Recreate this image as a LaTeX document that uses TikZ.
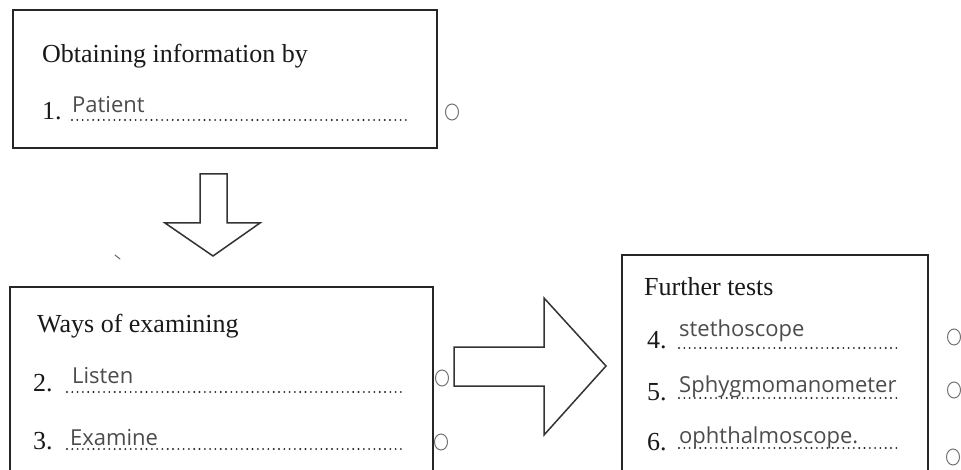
\documentclass[tikz,border=0pt]{standalone}
\usepackage{fontspec}
\usetikzlibrary{shapes.geometric}
\setmainfont{Liberation Serif}
\newfontfamily\hand{Open Sans}
\begin{document}
\begin{tikzpicture}[x=1pt,y=-1pt,
  box/.style={draw=black!85,line width=1.8pt,inner sep=0pt,outer sep=0pt},
  blockarrow/.style={draw=black!80,line width=1.5pt,fill=white,line join=miter},
  printed/.style={anchor=base west,inner sep=0pt,font=\fontsize{26}{30}\selectfont,text=black!90},
  handw/.style={anchor=base west,inner sep=0pt,font=\hand\fontsize{22}{26}\selectfont,text=black!70},
  leader/.style={draw=black!85,line width=2.1pt,line cap=round,dash pattern=on 0pt off 5.3pt},
  okmark/.style={draw=black!55,line width=1pt,ellipse,minimum width=13pt,minimum height=16pt,inner sep=0pt}
]
\useasboundingbox (0,0) rectangle (961,470);
\clip (0,0) rectangle (961,470);
\fill[white] (0,0) rectangle (961,470);

% boxes
\node[box,minimum width=424pt,minimum height=138pt] (b1) at (225,79) {};
\node[box,minimum width=423pt,minimum height=210pt] (b2) at (221.5,392) {};
\node[box,minimum width=306pt,minimum height=240pt] (b3) at (775,375) {};

% block arrows
\draw[blockarrow] (200,174) -- (227,174) -- (227,223) -- (260,223) -- (213,256) -- (165,223) -- (200,223) -- cycle;
\draw[blockarrow] (454,347) -- (544,347) -- (544,298) -- (606,366) -- (544,435) -- (544,386) -- (454,386) -- cycle;

% stray tick
\draw[black!60,line width=1pt,line cap=round] (115,255) -- (120,259);

% box 1
\node[printed] (t1) at (42,63) {Obtaining information by};
\node[printed] (n1) at (42,120) {1.};
\coordinate (l1a) at (72,120); \coordinate (l1b) at (408,120);
\draw[leader] (l1a) -- (l1b);
\node[handw] (h1) at (72,113) {Patient};
\node[okmark] (o1) at (452,112) {};

% box 2
\node[printed] (t2) at (37,333) {Ways of examining};
\node[printed] (n2) at (33,391) {2.};
\node[printed] (n3) at (33,449) {3.};
\coordinate (l2a) at (67,392); \coordinate (l2b) at (403,392);
\coordinate (l3a) at (67,449); \coordinate (l3b) at (403,449);
\draw[leader] (l2a) -- (l2b);
\draw[leader] (l3a) -- (l3b);
\node[handw] (h2) at (72,383) {Listen};
\node[handw] (h3) at (70,445) {Examine};
\node[okmark] (o2) at (442,378) {};
\node[okmark] (o3) at (441,442) {};

% box 3
\node[printed] (t3) at (644,295) {Further tests};
\node[printed] (n4) at (647,348) {4.};
\node[printed] (n5) at (647,400) {5.};
\node[printed] (n6) at (647,450) {6.};
\coordinate (l4a) at (679,348); \coordinate (l4b) at (900,348);
\coordinate (l5a) at (679,398); \coordinate (l5b) at (900,398);
\coordinate (l6a) at (679,448); \coordinate (l6b) at (900,448);
\draw[leader] (l4a) -- (l4b);
\draw[leader] (l5a) -- (l5b);
\draw[leader] (l6a) -- (l6b);
\node[handw] (h4) at (679,337) {stethoscope};
\node[handw] (h5) at (679,392) {Sphygmomanometer};
\node[handw] (h6) at (679,443) {ophthalmoscope.};
\node[okmark] (o4) at (954,337) {};
\node[okmark] (o5) at (954,390) {};
\node[okmark] (o6) at (953,457) {};
\end{tikzpicture}
\end{document}
